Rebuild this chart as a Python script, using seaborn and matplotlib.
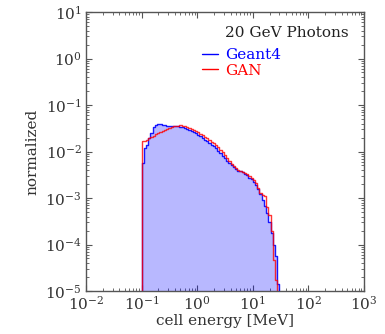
import numpy as np
import matplotlib
matplotlib.use("Agg")
import matplotlib.pyplot as plt
from matplotlib.lines import Line2D
import seaborn as sns

# log10 bin edges of the cell-energy histogram (MeV)
log_edges = np.linspace(-1.0, 1.48, 63)
bin_centers = 10 ** (0.5 * (log_edges[:-1] + log_edges[1:]))

# normalized cell-energy spectrum, one value per bin
geant4 = [
    5.62e-3, 1.20e-2, 1.41e-2, 1.91e-2, 2.51e-2, 3.31e-2, 3.72e-2, 3.89e-2,
    3.89e-2, 3.80e-2, 3.63e-2, 3.55e-2, 3.55e-2, 3.55e-2, 3.55e-2, 3.47e-2,
    3.47e-2, 3.39e-2, 3.31e-2, 3.24e-2, 3.09e-2, 2.95e-2, 2.75e-2, 2.63e-2,
    2.45e-2, 2.29e-2, 2.14e-2, 1.95e-2, 1.78e-2, 1.66e-2, 1.51e-2, 1.38e-2,
    1.29e-2, 1.17e-2, 1.05e-2, 9.33e-3, 8.13e-3, 7.08e-3, 6.31e-3, 5.62e-3,
    5.01e-3, 4.57e-3, 4.17e-3, 3.89e-3, 3.72e-3, 3.55e-3, 3.31e-3, 3.09e-3,
    2.75e-3, 2.51e-3, 2.24e-3, 1.91e-3, 1.58e-3, 1.20e-3, 8.91e-4, 6.61e-4,
    4.79e-4, 3.02e-4, 1.78e-4, 1.00e-4, 5.62e-5, 1.41e-5,
]
gan = [
    1.66e-2, 1.66e-2, 1.78e-2, 1.91e-2, 2.04e-2, 2.19e-2, 2.34e-2, 2.51e-2,
    2.63e-2, 2.82e-2, 2.95e-2, 3.09e-2, 3.24e-2, 3.39e-2, 3.47e-2, 3.55e-2,
    3.55e-2, 3.63e-2, 3.55e-2, 3.55e-2, 3.39e-2, 3.24e-2, 3.09e-2, 2.95e-2,
    2.75e-2, 2.57e-2, 2.40e-2, 2.24e-2, 2.09e-2, 1.91e-2, 1.78e-2, 1.62e-2,
    1.51e-2, 1.38e-2, 1.23e-2, 1.10e-2, 9.55e-3, 8.32e-3, 7.24e-3, 6.31e-3,
    5.50e-3, 4.90e-3, 4.37e-3, 3.98e-3, 3.80e-3, 3.63e-3, 3.47e-3, 3.24e-3,
    2.95e-3, 2.69e-3, 2.40e-3, 2.09e-3, 1.66e-3, 1.26e-3, 1.15e-3, 1.10e-3,
    6.46e-4, 4.27e-4, 2.00e-4, 4.68e-5, 1.74e-5, 0.0,
]

title_text = "20 GeV Photons"
series_names = ["Geant4", "GAN"]
series_colors = ["#0000ff", "#ff0000"]

sns.set_theme(style="ticks")
plt.rcParams["font.family"] = ["DejaVu Serif"]
plt.rcParams["mathtext.fontset"] = "dejavuserif"
plt.rcParams["xtick.direction"] = "in"
plt.rcParams["ytick.direction"] = "in"

W, H = 385, 334
fig = plt.figure(figsize=(W / 100, H / 100), dpi=100)
ax = fig.add_axes([86 / W, 1 - 291 / H, (364 - 86) / W, (291 - 12) / H])

bin_list = list(log_edges)
sns.histplot(x=bin_centers, weights=geant4, bins=bin_list, log_scale=True,
             element="step", fill=True, ax=ax, color=series_colors[0],
             facecolor=(0.0, 0.0, 1.0, 0.28), edgecolor=(0.0, 0.0, 1.0, 0.9),
             linewidth=1.0)
sns.histplot(x=bin_centers, weights=gan, bins=bin_list, log_scale=True,
             element="step", fill=True, ax=ax, color=series_colors[1],
             facecolor="none", edgecolor=(1.0, 0.0, 0.0, 0.8), linewidth=1.0)

ax.set_yscale("log")
ax.set_xlim(1e-2, 1e3)
ax.set_ylim(1e-5, 1e1)
ax.set_xlabel("cell energy [MeV]", fontsize=11, color="#333333", labelpad=1)
ax.set_ylabel("normalized", fontsize=11, color="#333333", labelpad=4)

for s in ax.spines.values():
    s.set_color("#555555")
    s.set_linewidth(1.0)
ax.tick_params(which="both", top=True, right=True, colors="#555555",
               labelcolor="#333333", labelsize=11)
ax.tick_params(which="major", length=4, width=0.8, pad=3)
ax.tick_params(which="minor", length=2, width=0.6)
ax.xaxis.set_major_locator(matplotlib.ticker.LogLocator(base=10, numticks=10))
ax.yaxis.set_major_locator(matplotlib.ticker.LogLocator(base=10, numticks=10))
ax.xaxis.set_minor_locator(matplotlib.ticker.LogLocator(base=10, subs=np.arange(2, 10), numticks=20))
ax.yaxis.set_minor_locator(matplotlib.ticker.LogLocator(base=10, subs=np.arange(2, 10), numticks=20))

fig.text(225 / W, 1 - 33 / H, title_text, fontsize=11, color="#222222",
         ha="left", va="center")
handles = [Line2D([], [], color=c, lw=1.0) for c in series_colors]
leg = ax.legend(handles, series_names, loc="upper left",
                bbox_to_anchor=(202 / W, 1 - 48 / H),
                bbox_transform=fig.transFigure, frameon=False,
                fontsize=11, handlelength=1.05, handletextpad=0.45,
                labelspacing=0.1, borderpad=0, borderaxespad=0)
for txt, c in zip(leg.get_texts(), series_colors):
    txt.set_color(c)

fig.savefig("out.png", dpi=100)
